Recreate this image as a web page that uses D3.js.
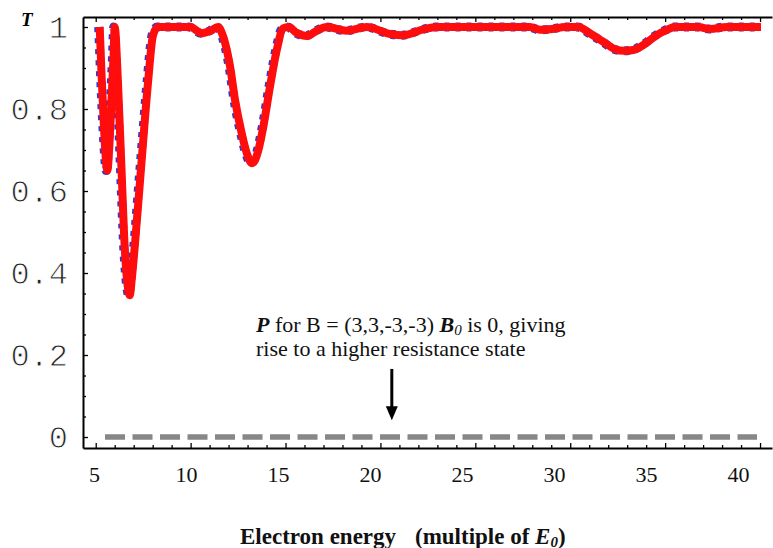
<!DOCTYPE html>
<html>
<head>
<meta charset="utf-8">
<script src="https://cdn.jsdelivr.net/npm/d3@7"></script>
<style>
    html, body { margin: 0; padding: 0; background: #fff; }
    svg { display: block; }
</style>
</head>
<body>
<div id="chart"></div>
<script>
// transmission T vs electron energy (multiple of E0)
const energy = [
    5.21, 5.31, 5.44, 5.61, 5.73, 5.83, 5.94, 6.00, 6.17, 6.35,
    6.53, 6.68, 6.79, 6.91, 7.05, 7.40, 7.76, 8.02, 8.28, 9.97,
    10.60, 11.02, 11.44, 11.72, 12.08, 12.34, 12.69, 12.96, 13.22, 13.39,
    13.57, 13.83, 14.18, 14.54, 14.88, 15.15, 15.61, 16.12, 16.61, 17.17,
    18.22, 19.28, 20.51, 21.21, 22.26, 22.97, 27.88, 28.41, 29.04, 29.73,
    30.43, 31.05, 31.74, 32.36, 32.84, 33.32, 33.85, 34.56, 35.08, 35.52,
    36.75, 37.37, 38.25, 40.05
];
const transmission = [
    1.00, 0.88, 0.75, 0.65, 0.72, 0.82, 0.93, 1.00, 0.867, 0.663,
    0.461, 0.37, 0.346, 0.39, 0.461, 0.663, 0.867, 0.98, 1.00, 1.00,
    0.985, 0.99, 1.00, 0.976, 0.903, 0.822, 0.741, 0.692, 0.668, 0.675,
    0.70, 0.757, 0.854, 0.944, 0.997, 1.00, 0.985, 0.978, 0.99, 1.00,
    0.991, 1.00, 0.983, 0.98, 0.994, 1.00, 1.00, 0.993, 0.995, 1.00,
    1.00, 0.984, 0.964, 0.946, 0.942, 0.944, 0.956, 0.98, 0.993, 1.00,
    1.00, 0.995, 1.00, 1.00
];

// P for B = (3,3,-3,-3) B0 is zero across the range
const pEnergy = [5.49, 39.84];
const pValue = [0, 0];

const xTicks = [5, 10, 15, 20, 25, 30, 35, 40];
const xMinorTicks = d3.range(5, 41, 1);
const yTicks = [0, 0.2, 0.4, 0.6, 0.8, 1];
const yMinorTicks = d3.range(0, 1.001, 0.05);

const width = 773;
const height = 548;

const svg = d3.select("#chart")
    .append("svg")
    .attr("width", width)
    .attr("height", height);

const x = d3.scaleLinear().domain([4.33, 40.63]).range([83, 772]);
const y = d3.scaleLinear().domain([-0.0268, 1.0244]).range([448, 17]);

// tick labels on the original sit a little left of their ticks
const xLabelScale = d3.scaleLinear().domain([5, 40]).range([94, 738]);

const serif = "'Liberation Serif', 'Times New Roman', serif";

// --- frame: top line with ticks pointing down
function tickStyle(g) {
    g.selectAll(".domain").attr("stroke", "#000").attr("stroke-width", 2);
    g.selectAll(".tick line").attr("stroke", "#000").attr("stroke-width", 1.3);
}

svg.append("g")
    .attr("transform", `translate(0, ${y.range()[1]})`)
    .call(d3.axisBottom(x).tickValues(xMinorTicks).tickSize(3).tickSizeOuter(0).tickFormat(""))
    .call(tickStyle)
    .call(g => g.selectAll(".tick line")
        .filter(d => xTicks.includes(d))
        .attr("y2", 5));

// bottom axis, ticks pointing up
svg.append("g")
    .attr("transform", `translate(0, ${y.range()[0]})`)
    .call(d3.axisTop(x).tickValues(xMinorTicks).tickSize(3).tickSizeOuter(0).tickFormat(""))
    .call(tickStyle)
    .call(g => g.selectAll(".tick line")
        .filter(d => xTicks.includes(d))
        .attr("y2", -5));

svg.append("g")
    .attr("transform", `translate(0, ${y.range()[0]})`)
    .call(d3.axisBottom(xLabelScale).tickValues(xTicks).tickSize(0).tickPadding(18))
    .call(g => g.select(".domain").remove())
    .call(g => g.selectAll("text")
        .attr("font-family", serif)
        .attr("font-size", 22)
        .attr("fill", "#111"));

// left axis, ticks pointing right
svg.append("g")
    .attr("transform", `translate(${x.range()[0]}, 0)`)
    .call(d3.axisRight(y).tickValues(yMinorTicks).tickSize(3).tickSizeOuter(0).tickFormat(""))
    .call(tickStyle)
    .call(g => g.selectAll(".tick line")
        .filter(d => yTicks.some(t => Math.abs(t - d) < 1e-6))
        .attr("x2", 5));

// thin courier-like numbers: white stroke eats into the glyphs a bit
svg.append("g")
    .attr("transform", `translate(${x.range()[0]}, 0)`)
    .call(d3.axisLeft(y).tickValues(yTicks).tickSize(0).tickPadding(15).tickFormat(d3.format("~g")))
    .call(g => g.select(".domain").remove())
    .call(g => g.selectAll("text")
        .attr("font-family", "'Liberation Mono', 'Courier New', monospace")
        .attr("font-size", 32)
        .attr("dy", "0.34em")
        .attr("fill", "#222")
        .attr("stroke", "#fff")
        .attr("stroke-width", 0.9));

// --- series
const pts = energy.map((e, i) => ({ e: e, t: transmission[i] }));
const pPts = pEnergy.map((e, i) => ({ e: e, t: pValue[i] }));

const line = d3.line()
    .x(d => x(d.e))
    .y(d => y(d.t))
    .curve(d3.curveMonotoneX);

svg.append("path")
    .datum(pPts)
    .attr("fill", "none")
    .attr("stroke", "#878787")
    .attr("stroke-width", 5.3)
    .attr("stroke-dasharray", "20,7.5")
    .attr("d", line);

// blue dashed curve peeks out under the red one
svg.append("path")
    .datum(pts)
    .attr("transform", "translate(-1, 0)")
    .attr("fill", "none")
    .attr("stroke", "#2a3bd8")
    .attr("stroke-width", 9)
    .attr("stroke-dasharray", "5,6")
    .attr("d", line);

svg.append("path")
    .datum(pts)
    .attr("fill", "none")
    .attr("stroke", "#ff0d0d")
    .attr("stroke-width", 8)
    .attr("stroke-linejoin", "round")
    .attr("d", line);

// --- texts
svg.append("text")
    .attr("x", 21)
    .attr("y", 26)
    .attr("font-family", serif)
    .attr("font-size", 19)
    .attr("font-weight", "bold")
    .attr("font-style", "italic")
    .text("T");

const note = svg.append("text")
    .attr("font-family", serif)
    .attr("font-size", 22)
    .attr("fill", "#111");

const l1 = note.append("tspan").attr("x", 256).attr("y", 332);
l1.append("tspan").attr("font-weight", "bold").attr("font-style", "italic").text("P");
l1.append("tspan").text(" for B = (3,3,-3,-3) ");
l1.append("tspan").attr("font-weight", "bold").attr("font-style", "italic").text("B");
l1.append("tspan").attr("font-style", "italic").attr("font-size", 15).attr("dy", 3).text("0");
l1.append("tspan").attr("dy", -3).text(" is 0, giving");

note.append("tspan").attr("x", 256).attr("y", 356).text("rise to a higher resistance state");

// arrow pointing at the P = 0 line
const arrowX = x(20.6);
svg.append("line")
    .attr("x1", arrowX).attr("x2", arrowX)
    .attr("y1", y(0.166)).attr("y2", y(0.07))
    .attr("stroke", "#000")
    .attr("stroke-width", 3);

svg.append("path")
    .attr("d", `M${arrowX - 6},${y(0.075)} L${arrowX + 6},${y(0.075)} L${arrowX},${y(0.041)} Z`)
    .attr("fill", "#000");

const title = svg.append("text")
    .attr("y", 544)
    .attr("font-family", serif)
    .attr("font-size", 23)
    .attr("font-weight", "bold")
    .attr("fill", "#111");

title.append("tspan").attr("x", 240).text("Electron energy");
title.append("tspan").attr("x", 415).text("(multiple of ");
title.append("tspan").attr("font-style", "italic").text("E");
title.append("tspan").attr("font-style", "italic").attr("font-size", 15).attr("dy", 3).text("0");
title.append("tspan").attr("dy", -3).text(")");
</script>
</body>
</html>
